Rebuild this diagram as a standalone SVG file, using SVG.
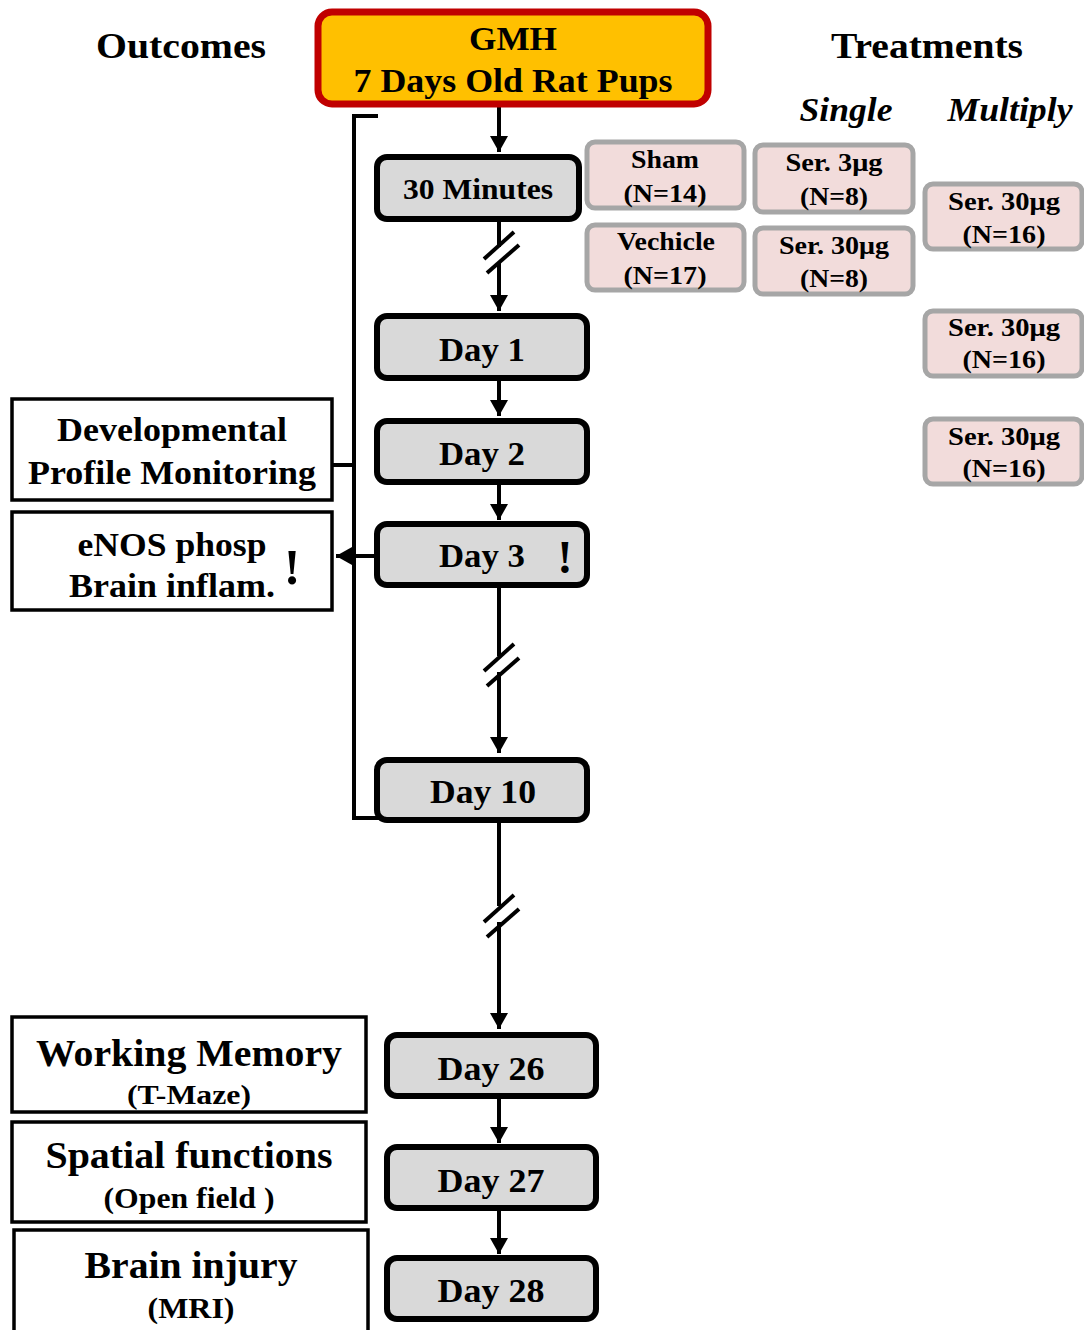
<svg xmlns="http://www.w3.org/2000/svg" width="1084" height="1330" viewBox="0 0 1084 1330">
<defs>
<marker id="ah" markerUnits="userSpaceOnUse" markerWidth="20" markerHeight="18" refX="16" refY="9" orient="auto">
<path d="M0,0 L16,9 L0,18 Z" fill="#000"/>
</marker>
<style>
text{font-family:"Liberation Serif","Times New Roman",serif;font-weight:bold;fill:#000;text-anchor:middle}
.day{fill:#d9d9d9;stroke:#000;stroke-width:6}
.out{fill:#fff;stroke:#000;stroke-width:3.5}
.trt{fill:#f2dcdb;stroke:#a6a6a6;stroke-width:5}
.ln{stroke:#000;stroke-width:4;fill:none}
.t-day{font-size:34px}
.t-trt{font-size:25px}
.t-out{font-size:34px}
.hdr{font-size:36px}
</style>
</defs>
<rect width="1084" height="1330" fill="#fff"/>

<text class="hdr" x="181" y="58" textLength="170" lengthAdjust="spacingAndGlyphs">Outcomes</text>
<text class="hdr" x="927" y="58" textLength="192" lengthAdjust="spacingAndGlyphs">Treatments</text>
<text x="846" y="121" font-size="34" font-style="italic" textLength="93" lengthAdjust="spacingAndGlyphs">Single</text>
<text x="1010" y="121" font-size="34" font-style="italic" textLength="125" lengthAdjust="spacingAndGlyphs">Multiply</text>

<g id="connectors">
<line class="ln" x1="499" y1="104" x2="499" y2="152" marker-end="url(#ah)"/>
<line class="ln" x1="499" y1="219" x2="499" y2="247"/>
<line class="ln" x1="499" y1="262" x2="499" y2="311" marker-end="url(#ah)"/>
<line class="ln" x1="484" y1="259" x2="514" y2="232"/>
<line class="ln" x1="487" y1="273" x2="519" y2="245"/>
<line class="ln" x1="499" y1="378" x2="499" y2="416" marker-end="url(#ah)"/>
<line class="ln" x1="499" y1="482" x2="499" y2="520" marker-end="url(#ah)"/>
<line class="ln" x1="428" y1="556" x2="336" y2="556" marker-end="url(#ah)"/>
<line class="ln" x1="499" y1="585" x2="499" y2="656"/>
<line class="ln" x1="499" y1="672" x2="499" y2="753" marker-end="url(#ah)"/>
<line class="ln" x1="484" y1="671" x2="514" y2="644"/>
<line class="ln" x1="487" y1="686" x2="519" y2="658"/>
<line class="ln" x1="499" y1="820" x2="499" y2="906"/>
<line class="ln" x1="499" y1="922" x2="499" y2="1029" marker-end="url(#ah)"/>
<line class="ln" x1="484" y1="922" x2="514" y2="895"/>
<line class="ln" x1="487" y1="937" x2="519" y2="909"/>
<line class="ln" x1="499" y1="1096" x2="499" y2="1143" marker-end="url(#ah)"/>
<line class="ln" x1="499" y1="1208" x2="499" y2="1254" marker-end="url(#ah)"/>
<path class="ln" d="M378,116 H354 V818 H380"/>
<line class="ln" x1="332" y1="465" x2="354" y2="465"/>
</g>

<g id="gmh">
<rect x="318" y="12" width="390" height="92" rx="14" fill="#ffc000" stroke="#c00000" stroke-width="7"/>
<text x="513" y="50" font-size="34" textLength="88" lengthAdjust="spacingAndGlyphs">GMH</text>
<text x="513" y="92" font-size="34" textLength="319" lengthAdjust="spacingAndGlyphs">7 Days Old Rat Pups</text>
</g>

<g id="min30">
<rect class="day" x="377" y="157" width="202" height="62" rx="10"/>
<text x="478" y="199" font-size="30" textLength="150" lengthAdjust="spacingAndGlyphs">30 Minutes</text>
</g>
<g id="day1">
<rect class="day" x="377" y="316" width="210" height="62" rx="10"/>
<text class="t-day" x="482" y="361" textLength="86" lengthAdjust="spacingAndGlyphs">Day 1</text>
</g>
<g id="day2">
<rect class="day" x="377" y="421" width="210" height="61" rx="10"/>
<text class="t-day" x="482" y="465" textLength="86" lengthAdjust="spacingAndGlyphs">Day 2</text>
</g>
<g id="day3">
<rect class="day" x="377" y="524" width="210" height="61" rx="10"/>
<text class="t-day" x="482" y="567" textLength="86" lengthAdjust="spacingAndGlyphs">Day 3</text>
<text x="565" y="573" font-size="46">!</text>
</g>
<g id="day10">
<rect class="day" x="377" y="760" width="210" height="60" rx="10"/>
<text class="t-day" x="483" y="803" textLength="106" lengthAdjust="spacingAndGlyphs">Day 10</text>
</g>
<g id="day26">
<rect class="day" x="387" y="1035" width="209" height="61" rx="10"/>
<text class="t-day" x="491" y="1080" textLength="107" lengthAdjust="spacingAndGlyphs">Day 26</text>
</g>
<g id="day27">
<rect class="day" x="387" y="1147" width="209" height="61" rx="10"/>
<text class="t-day" x="491" y="1192" textLength="107" lengthAdjust="spacingAndGlyphs">Day 27</text>
</g>
<g id="day28">
<rect class="day" x="387" y="1258" width="209" height="61" rx="10"/>
<text class="t-day" x="491" y="1302" textLength="107" lengthAdjust="spacingAndGlyphs">Day 28</text>
</g>

<g id="dev">
<rect class="out" x="12" y="399" width="320" height="101"/>
<text class="t-out" x="172" y="441" textLength="230" lengthAdjust="spacingAndGlyphs">Developmental</text>
<text class="t-out" x="172" y="484" textLength="288" lengthAdjust="spacingAndGlyphs">Profile Monitoring</text>
</g>
<g id="enos">
<rect class="out" x="12" y="512" width="320" height="98"/>
<text class="t-out" x="172" y="556" textLength="189" lengthAdjust="spacingAndGlyphs">eNOS phosp</text>
<text class="t-out" x="172" y="597" textLength="206" lengthAdjust="spacingAndGlyphs">Brain inflam.</text>
<text x="292" y="584" font-size="50">!</text>
</g>
<g id="wm">
<rect class="out" x="12" y="1017" width="354" height="95"/>
<text x="189" y="1066" font-size="38" textLength="306" lengthAdjust="spacingAndGlyphs">Working Memory</text>
<text x="189" y="1104" font-size="28" textLength="124" lengthAdjust="spacingAndGlyphs">(T-Maze)</text>
</g>
<g id="sf">
<rect class="out" x="12" y="1122" width="354" height="100"/>
<text x="189" y="1168" font-size="38" textLength="287" lengthAdjust="spacingAndGlyphs">Spatial functions</text>
<text x="189" y="1208" font-size="29" textLength="171" lengthAdjust="spacingAndGlyphs">(Open field )</text>
</g>
<g id="bi">
<rect class="out" x="14" y="1230" width="354" height="104"/>
<text x="191" y="1278" font-size="38" textLength="213" lengthAdjust="spacingAndGlyphs">Brain injury</text>
<text x="191" y="1318" font-size="29" textLength="87" lengthAdjust="spacingAndGlyphs">(MRI)</text>
</g>

<g id="sham">
<rect class="trt" x="587" y="142" width="157" height="66" rx="8"/>
<text class="t-trt" x="665" y="168" textLength="68" lengthAdjust="spacingAndGlyphs">Sham</text>
<text class="t-trt" x="665" y="202" textLength="83" lengthAdjust="spacingAndGlyphs">(N=14)</text>
</g>
<g id="vehicle">
<rect class="trt" x="587" y="225" width="157" height="65" rx="8"/>
<text class="t-trt" x="666" y="250" textLength="98" lengthAdjust="spacingAndGlyphs">Vechicle</text>
<text class="t-trt" x="665" y="284" textLength="83" lengthAdjust="spacingAndGlyphs">(N=17)</text>
</g>
<g id="s3">
<rect class="trt" x="755" y="145" width="158" height="67" rx="8"/>
<text class="t-trt" x="834" y="171" textLength="97" lengthAdjust="spacingAndGlyphs">Ser. 3μg</text>
<text class="t-trt" x="834" y="205" textLength="68" lengthAdjust="spacingAndGlyphs">(N=8)</text>
</g>
<g id="s30">
<rect class="trt" x="755" y="228" width="158" height="66" rx="8"/>
<text class="t-trt" x="834" y="254" textLength="110" lengthAdjust="spacingAndGlyphs">Ser. 30μg</text>
<text class="t-trt" x="834" y="287" textLength="68" lengthAdjust="spacingAndGlyphs">(N=8)</text>
</g>
<g id="m1">
<rect class="trt" x="925" y="184" width="157" height="65" rx="8"/>
<text class="t-trt" x="1004" y="210" textLength="112" lengthAdjust="spacingAndGlyphs">Ser. 30μg</text>
<text class="t-trt" x="1004" y="243" textLength="83" lengthAdjust="spacingAndGlyphs">(N=16)</text>
</g>
<g id="m2">
<rect class="trt" x="925" y="311" width="157" height="65" rx="8"/>
<text class="t-trt" x="1004" y="336" textLength="112" lengthAdjust="spacingAndGlyphs">Ser. 30μg</text>
<text class="t-trt" x="1004" y="368" textLength="83" lengthAdjust="spacingAndGlyphs">(N=16)</text>
</g>
<g id="m3">
<rect class="trt" x="925" y="419" width="157" height="65" rx="8"/>
<text class="t-trt" x="1004" y="445" textLength="112" lengthAdjust="spacingAndGlyphs">Ser. 30μg</text>
<text class="t-trt" x="1004" y="477" textLength="83" lengthAdjust="spacingAndGlyphs">(N=16)</text>
</g>
</svg>
